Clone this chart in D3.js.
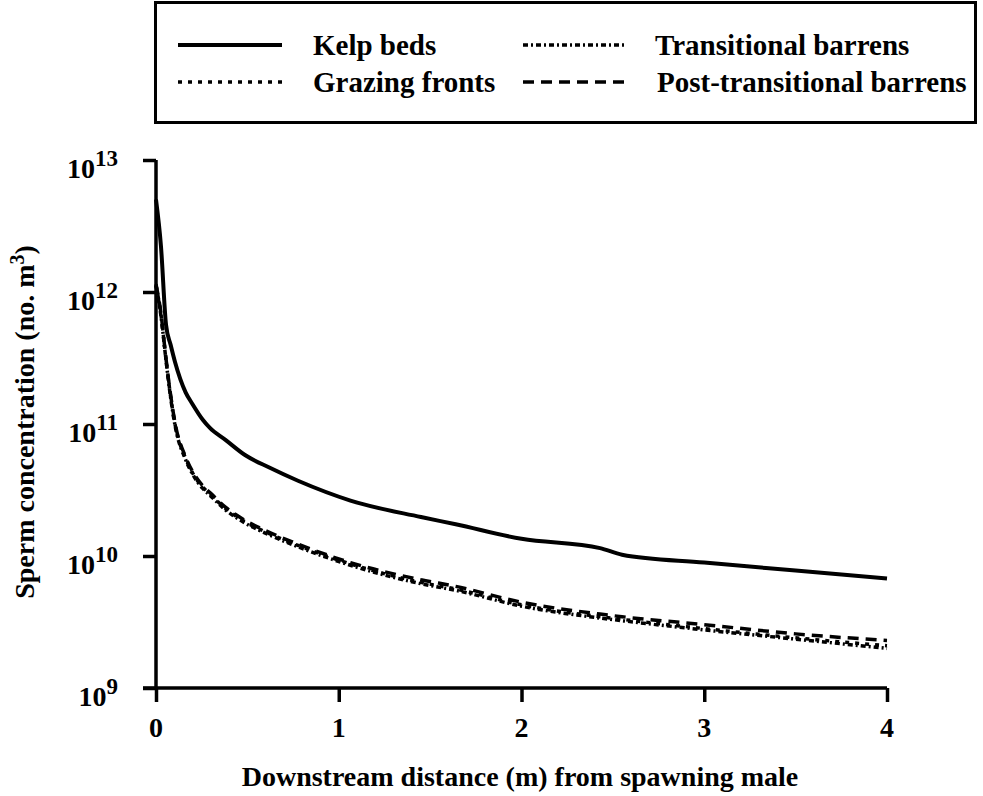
<!DOCTYPE html>
<html>
<head>
<meta charset="utf-8">
<script src="https://cdn.jsdelivr.net/npm/d3@7"></script>
<style>
  html, body { margin: 0; padding: 0; background: #fff; }
  svg { display: block; }
  text { font-family: "Liberation Serif", "DejaVu Serif", serif; font-weight: bold; fill: #000; }
</style>
</head>
<body>
<svg id="chart" width="983" height="796"></svg>
<script>
// distance downstream (m) and sperm concentration (no. m^-3), log10 values
const distance = [0, 0.027, 0.055, 0.08, 0.104, 0.162, 0.2, 0.257, 0.295, 0.38, 0.487, 0.62, 0.777, 1.064, 1.45, 1.64, 2.0, 2.43, 2.55, 3.0, 3.5, 4.0];

const kelpBeds =      [12.70, 12.35, 11.75, 11.60, 11.47, 11.24, 11.15, 11.03, 10.97, 10.88, 10.765, 10.67, 10.57, 10.42, 10.295, 10.24, 10.13, 10.06, 10.01, 9.95, 9.89, 9.83];
const grazingFronts = [12.05, 11.83, 11.485, 11.21, 11.00, 10.74, 10.63, 10.52, 10.47, 10.36, 10.26, 10.17, 10.08, 9.94, 9.80, 9.75, 9.63, 9.54, 9.52, 9.45, 9.38, 9.32];
const transitional =  [12.05, 11.82, 11.48, 11.20, 10.99, 10.73, 10.62, 10.51, 10.46, 10.35, 10.25, 10.16, 10.07, 9.93, 9.79, 9.74, 9.62, 9.53, 9.51, 9.44, 9.37, 9.30];
const postTransitional = [12.06, 11.84, 11.49, 11.22, 11.01, 10.75, 10.64, 10.53, 10.48, 10.37, 10.27, 10.18, 10.09, 9.95, 9.82, 9.77, 9.65, 9.56, 9.54, 9.48, 9.41, 9.36];

const xTicks = [0, 1, 2, 3, 4];
const yExponents = [9, 10, 11, 12, 13];

const seriesNames = ["Kelp beds", "Grazing fronts", "Transitional barrens", "Post-transitional barrens"];

const svg = d3.select("#chart");

const x = d3.scaleLinear().domain([0, 4]).range([156, 887]);
const y = d3.scaleLog().domain([1e9, 1e13]).range([688, 160]);

const styles = {
  "Kelp beds":                 { width: 4,   dash: null },
  "Grazing fronts":            { width: 3.5, dash: "4,6" },
  "Transitional barrens":      { width: 3.5, dash: "5,3,2,3" },
  "Post-transitional barrens": { width: 3.5, dash: "11,7" }
};

const series = [kelpBeds, grazingFronts, transitional, postTransitional].map((vals, i) => ({
  name: seriesNames[i],
  points: distance.map((d, j) => ({ d, c: Math.pow(10, vals[j]) }))
}));

// axes
const yAxis = d3.axisLeft(y)
  .tickValues(yExponents.map(e => Math.pow(10, e)))
  .tickSize(13)
  .tickSizeOuter(0)
  .tickFormat("");

const xAxis = d3.axisBottom(x)
  .tickValues(xTicks)
  .tickSize(14)
  .tickSizeOuter(0)
  .tickFormat("");

const gy = svg.append("g").attr("transform", "translate(156,0)").call(yAxis);
const gx = svg.append("g").attr("transform", "translate(0,688)").call(xAxis);

[gx, gy].forEach(g => {
  g.select(".domain").attr("stroke", "#000").attr("stroke-width", 3.5);
  g.selectAll(".tick line").attr("stroke", "#000").attr("stroke-width", 3.5);
});
gx.select(".domain").attr("d", "M143,0H887");
gy.select(".domain").attr("d", "M0,688V160");

// x tick labels
svg.append("g").selectAll("text")
  .data(xTicks)
  .enter().append("text")
  .attr("x", d => x(d))
  .attr("y", 737)
  .attr("text-anchor", "middle")
  .attr("font-size", 28)
  .text(d => d);

// y tick labels with superscript exponent
const yLabels = svg.append("g").selectAll("text")
  .data(yExponents)
  .enter().append("text")
  .attr("x", 118)
  .attr("y", e => y(Math.pow(10, e)) + 18)
  .attr("text-anchor", "end")
  .attr("font-size", 28);
yLabels.append("tspan").text("10");
yLabels.append("tspan")
  .attr("dy", -12)
  .attr("font-size", 23)
  .text(e => e);

// axis titles
svg.append("text")
  .attr("x", 520)
  .attr("y", 786)
  .attr("text-anchor", "middle")
  .attr("font-size", 28)
  .text("Downstream distance (m) from spawning male");

const yTitle = svg.append("text")
  .attr("transform", "translate(34,422) rotate(-90)")
  .attr("text-anchor", "middle")
  .attr("font-size", 28);
yTitle.append("tspan").text("Sperm concentration (no. m");
yTitle.append("tspan").attr("dy", -10).attr("font-size", 20).text("3");
yTitle.append("tspan").attr("dy", 10).text(")");

// curves
const line = d3.line()
  .x(p => x(p.d))
  .y(p => y(p.c))
  .curve(d3.curveMonotoneX);

svg.append("g").selectAll("path")
  .data(series)
  .enter().append("path")
  .attr("fill", "none")
  .attr("stroke", "#000")
  .attr("stroke-width", s => styles[s.name].width)
  .attr("stroke-dasharray", s => styles[s.name].dash)
  .attr("stroke-linejoin", "round")
  .attr("d", s => line(s.points));

// legend
const legend = svg.append("g");
legend.append("rect")
  .attr("x", 155.5)
  .attr("y", 2.5)
  .attr("width", 820)
  .attr("height", 120)
  .attr("fill", "none")
  .attr("stroke", "#000")
  .attr("stroke-width", 3);

const legendPos = [
  { name: "Kelp beds", lx: 178, tx: 313, y: 45 },
  { name: "Transitional barrens", lx: 523, tx: 655, y: 45 },
  { name: "Grazing fronts", lx: 178, tx: 313, y: 82 },
  { name: "Post-transitional barrens", lx: 523, tx: 657, y: 82 }
];

legendPos.forEach(p => {
  legend.append("line")
    .attr("x1", p.lx).attr("x2", p.lx + 104)
    .attr("y1", p.y).attr("y2", p.y)
    .attr("stroke", "#000")
    .attr("stroke-width", styles[p.name].width)
    .attr("stroke-dasharray", styles[p.name].dash);
  legend.append("text")
    .attr("x", p.tx)
    .attr("y", p.y + 10)
    .attr("font-size", 29)
    .text(p.name);
});
</script>
</body>
</html>
